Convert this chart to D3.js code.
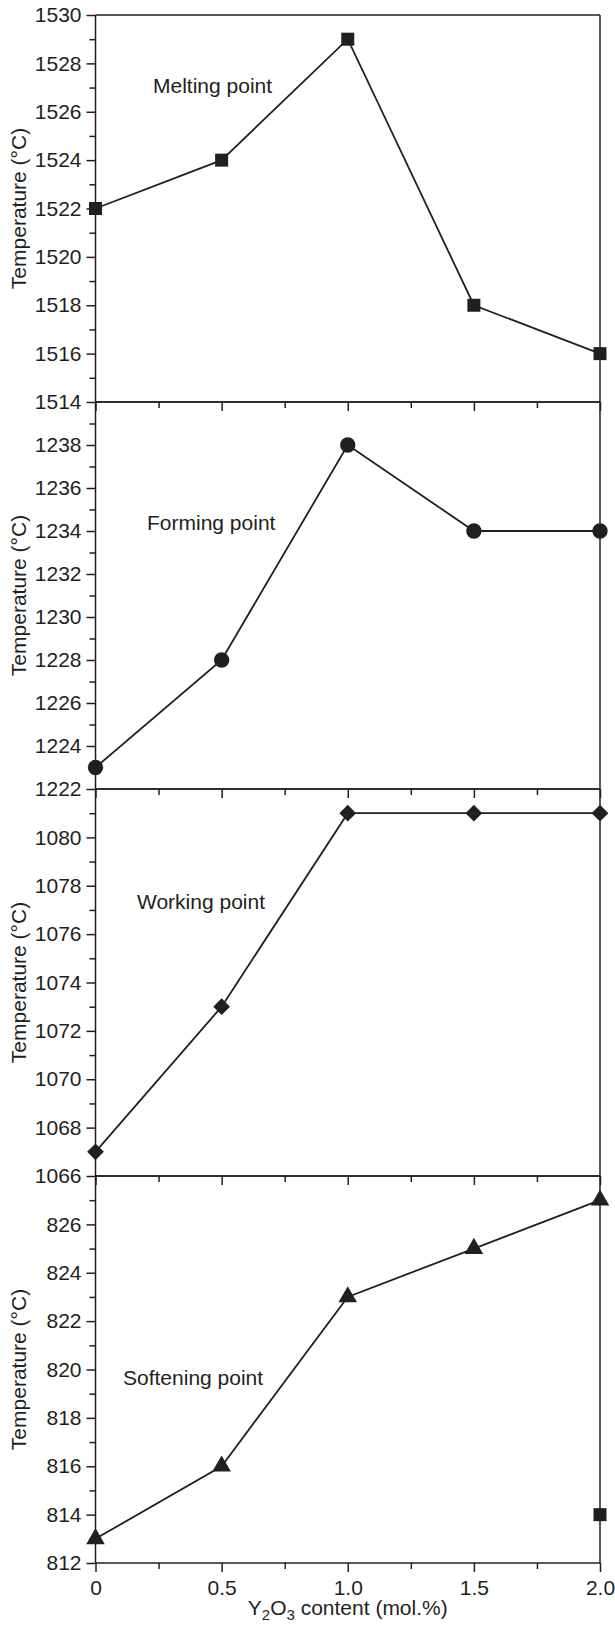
<!DOCTYPE html>
<html>
<head>
<meta charset="utf-8">
<script src="https://cdn.jsdelivr.net/npm/d3@7"></script>
<style>
    html, body { margin: 0; padding: 0; background: #fff; }
    svg { display: block; font-family: "Liberation Sans", Arial, sans-serif; }
    text { fill: #231f20; }
</style>
</head>
<body>
<div id="chart"></div>
<script>
// Data
const yttriaContent = [0, 0.5, 1.0, 1.5, 2.0];
const xTickLabels = ["0", "0.5", "1.0", "1.5", "2.0"];

const meltingPoint = [1522, 1524, 1529, 1518, 1516];
const formingPoint = [1223, 1228, 1238, 1234, 1234];
const workingPoint = [1067, 1073, 1081, 1081, 1081];
const softeningPoint = [813, 816, 823, 825, 827];
// lone square marker in the bottom panel
const extraPoint = [2.0, 814];

const panelNames = ["Melting point", "Forming point", "Working point", "Softening point"];
const panelDomains = [[1514, 1530], [1222, 1240], [1066, 1082], [812, 828]];
const panelTicks = [
    [1514, 1516, 1518, 1520, 1522, 1524, 1526, 1528, 1530],
    [1222, 1224, 1226, 1228, 1230, 1232, 1234, 1236, 1238],
    [1066, 1068, 1070, 1072, 1074, 1076, 1078, 1080],
    [812, 814, 816, 818, 820, 822, 824, 826]
];

// Layout
const width = 615, height = 1628;
const left = 95.5, right = 600;
const top0 = 15, panelH = 387;
const ink = "#231f20";

const labelPos = [
    { x: 153, y: 93 },
    { x: 147, y: 530 },
    { x: 137, y: 909 },
    { x: 123, y: 1385 }
];

const markers = [
    { type: d3.symbolSquare, size: 169, rotate: 0 },
    { type: d3.symbolCircle, size: 185, rotate: 0 },
    { type: d3.symbolSquare, size: 140, rotate: 45 },
    { type: d3.symbolTriangle, size: 150, rotate: 0 }
];

const series = [meltingPoint, formingPoint, workingPoint, softeningPoint];

const svg = d3.select("#chart").append("svg")
    .attr("width", width)
    .attr("height", height);

const x = d3.scaleLinear().domain([0, 2]).range([left, right]);

series.forEach((values, i) => {
    const y0 = top0 + i * panelH;
    const y = d3.scaleLinear().domain(panelDomains[i]).range([y0 + panelH, y0]);
    const g = svg.append("g");

    // frame: top and right plain lines
    g.append("line")
        .attr("x1", left).attr("x2", right)
        .attr("y1", y0).attr("y2", y0)
        .attr("stroke", ink).attr("stroke-width", 1.5);
    g.append("line")
        .attr("x1", right).attr("x2", right)
        .attr("y1", y0).attr("y2", y0 + panelH)
        .attr("stroke", ink).attr("stroke-width", 1.5);

    // left axis, minor ticks
    const [lo, hi] = panelDomains[i];
    g.append("g")
        .attr("transform", `translate(${left},0)`)
        .call(d3.axisLeft(y).tickValues(d3.range(lo + 1, hi, 2)).tickSize(6).tickFormat(""))
        .call(a => a.select(".domain").remove());

    // left axis, major ticks
    g.append("g")
        .attr("transform", `translate(${left},0)`)
        .call(d3.axisLeft(y).tickValues(panelTicks[i]).tickSize(9).tickPadding(5).tickFormat(d3.format("d")))
        .call(a => a.select(".domain").attr("d", `M0,${y0}V${y0 + panelH}`));

    // bottom axis ticks
    const isLast = i === series.length - 1;
    g.append("g")
        .attr("transform", `translate(0,${y0 + panelH})`)
        .call(d3.axisBottom(x).tickValues([0.25, 0.75, 1.25, 1.75]).tickSize(6).tickFormat(""))
        .call(a => a.select(".domain").remove());
    g.append("g")
        .attr("transform", `translate(0,${y0 + panelH})`)
        .call(d3.axisBottom(x).tickValues(yttriaContent).tickSize(9).tickPadding(8)
            .tickFormat((d, k) => isLast ? xTickLabels[k] : ""))
        .call(a => a.select(".domain").attr("d", `M${left},0H${right}`));

    g.selectAll(".domain, .tick line").attr("stroke", ink).attr("stroke-width", 1.5);
    g.selectAll(".tick text").attr("fill", ink).style("font-size", "21px")
        .style("font-family", "'Liberation Sans', Arial, sans-serif");

    // y title
    svg.append("text")
        .attr("transform", `translate(26,${y0 + panelH / 2}) rotate(-90)`)
        .attr("text-anchor", "middle")
        .style("font-size", "21px")
        .text("Temperature (\u00B0C)");

    // panel label
    svg.append("text")
        .attr("x", labelPos[i].x).attr("y", labelPos[i].y)
        .style("font-size", "21px")
        .text(panelNames[i]);

    // line
    const line = d3.line()
        .x((d, k) => x(yttriaContent[k]))
        .y(d => y(d));
    g.append("path")
        .datum(values)
        .attr("d", line)
        .attr("fill", "none")
        .attr("stroke", ink)
        .attr("stroke-width", 1.8);

    // markers
    const m = markers[i];
    g.selectAll(".pt")
        .data(values)
        .enter()
        .append("path")
        .attr("d", d3.symbol().type(m.type).size(m.size))
        .attr("transform", (d, k) => `translate(${x(yttriaContent[k])},${y(d)}) rotate(${m.rotate})`)
        .attr("fill", ink);

    if (isLast) {
        g.append("path")
            .attr("d", d3.symbol().type(d3.symbolSquare).size(169))
            .attr("transform", `translate(${x(extraPoint[0])},${y(extraPoint[1])})`)
            .attr("fill", ink);
    }
});

// x title
const xTitle = svg.append("text")
    .attr("x", (left + right) / 2)
    .attr("y", 1615)
    .attr("text-anchor", "middle")
    .style("font-size", "21px");
xTitle.append("tspan").text("Y");
xTitle.append("tspan").attr("dy", 5).style("font-size", "15px").text("2");
xTitle.append("tspan").attr("dy", -5).text("O");
xTitle.append("tspan").attr("dy", 5).style("font-size", "15px").text("3");
xTitle.append("tspan").attr("dy", -5).text(" content (mol.%)");
</script>
</body>
</html>
